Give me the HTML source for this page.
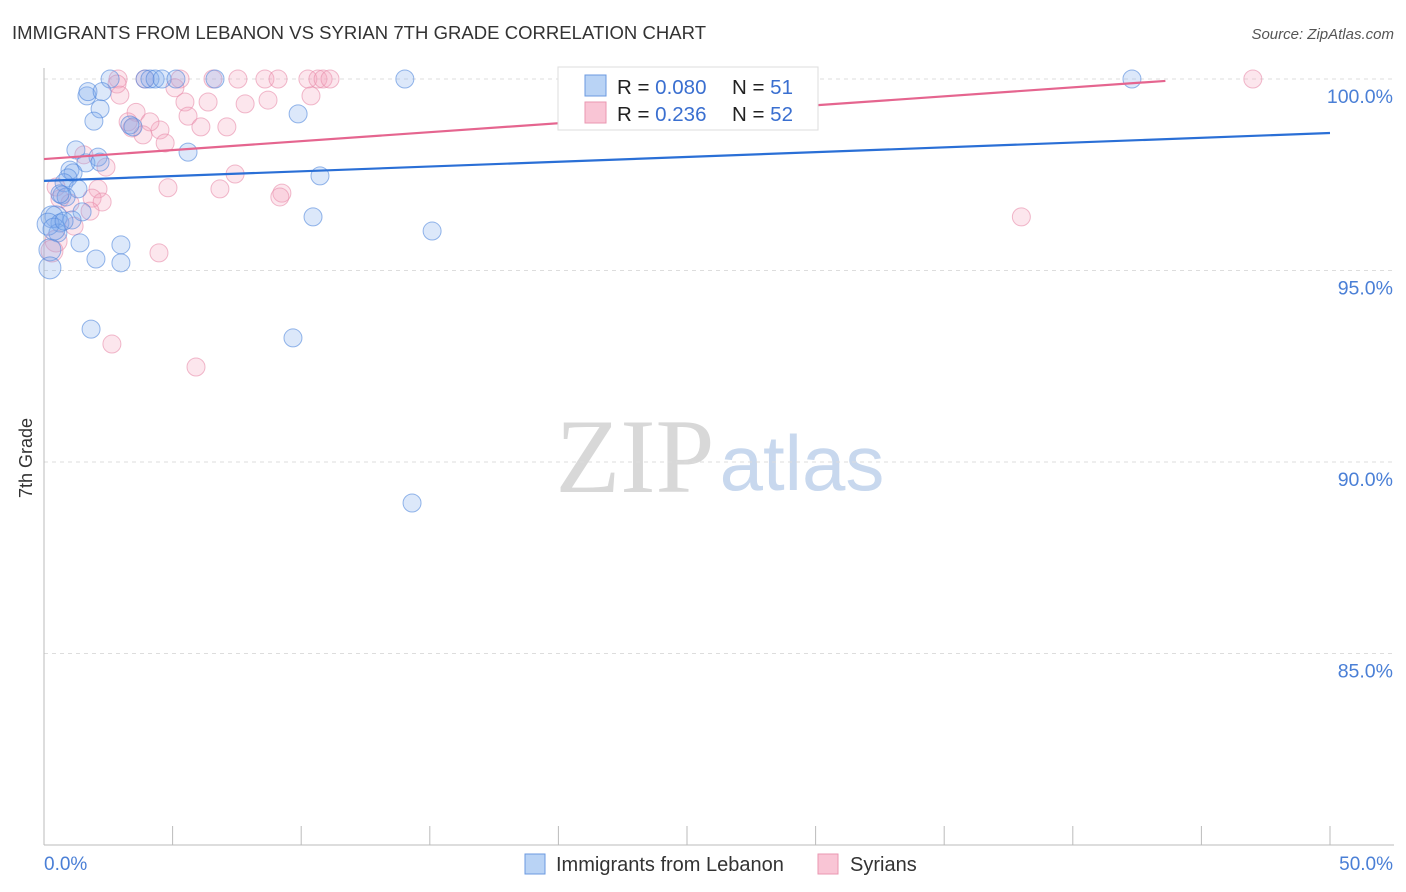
<!DOCTYPE html>
<html><head><meta charset="utf-8"><style>
body{margin:0;background:#fff;font-family:"Liberation Sans",sans-serif;}
#c{position:absolute;left:0;top:0}
</style></head><body>
<svg id="c" width="1406" height="892" xmlns="http://www.w3.org/2000/svg">
<text x="12" y="39" font-size="18.5" fill="#333" textLength="694">IMMIGRANTS FROM LEBANON VS SYRIAN 7TH GRADE CORRELATION CHART</text>
<text x="1394" y="39" font-size="15" fill="#555" font-style="italic" text-anchor="end">Source: ZipAtlas.com</text>
<text x="32" y="458" font-size="18" fill="#333" transform="rotate(-90 32 458)" text-anchor="middle">7th Grade</text>
<g>
<text x="635" y="492" font-size="106" fill="#d8d8d8" font-family="Liberation Serif,serif" text-anchor="middle">ZIP</text>
<text x="802" y="490" font-size="78" fill="#c8d8ee" text-anchor="middle">atlas</text>
</g>
<g id="grid"></g><g id="axes"></g><g id="pts"></g><g id="lines"></g>
<g>
<rect x="558" y="67" width="260" height="63" fill="#fff" stroke="#ddd"/>
<rect x="585" y="75" width="21" height="21" fill="#b9d3f5" stroke="#6b9ae0"/>
<rect x="585" y="102" width="21" height="21" fill="#f9c5d5" stroke="#ea97b1"/>
<text x="617" y="94" font-size="20.5" fill="#222">R = <tspan fill="#3a6fd0">0.080</tspan></text>
<text x="732" y="94" font-size="20.5" fill="#222">N = <tspan fill="#3a6fd0">51</tspan></text>
<text x="617" y="121" font-size="20.5" fill="#222">R = <tspan fill="#3a6fd0">0.236</tspan></text>
<text x="732" y="121" font-size="20.5" fill="#222">N = <tspan fill="#3a6fd0">52</tspan></text>
</g>
<g>
<rect x="525" y="854" width="20" height="20" fill="#b9d3f5" stroke="#6b9ae0"/>
<text x="556" y="871" font-size="20" fill="#333">Immigrants from Lebanon</text>
<rect x="818" y="854" width="20" height="20" fill="#f9c5d5" stroke="#ea97b1"/>
<text x="850" y="871" font-size="20" fill="#333">Syrians</text>
</g>
</svg>
<script>
const yTicks=[100,95,90,85];
const xTickLabels=["0.0%","50.0%"];
const blueX=[2.57,3.93,4.12,4.32,4.59,5.13,6.65,14.03,42.3,1.67,1.71,2.26,2.18,1.94,3.46,3.34,9.88,1.24,5.6,2.1,1.63,2.18,1.01,1.13,0.93,0.78,10.73,1.32,0.7,0.86,0.47,0.31,0.62,0.54,1.48,1.09,10.46,15.09,1.4,2.99,0.23,0.23,2.02,2.99,1.83,9.68,14.31,0.62,0.16,0.39,0.78];
const blueY=[100,100,100,100,100,100,100,100,100,99.56,99.67,99.67,99.22,98.9,98.75,98.8,99.09,98.15,98.09,97.96,97.81,97.83,97.62,97.55,97.42,97.29,97.47,97.13,96.97,96.92,96.4,96.4,96.24,95.98,96.53,96.32,96.4,96.03,95.72,95.67,95.54,95.07,95.3,95.2,93.47,93.24,88.93,97.0,96.21,96.08,96.29];
const pinkX=[2.88,3.93,5.29,6.57,7.54,8.59,9.1,10.26,10.65,10.85,11.12,27.84,47.0,2.84,2.95,5.09,5.48,6.38,7.82,8.71,10.38,3.58,5.6,3.27,3.42,4.51,4.12,6.1,7.11,3.85,4.71,1.55,2.41,7.43,2.1,4.82,6.84,9.25,9.17,1.87,2.26,0.47,0.62,1.01,1.79,1.17,0.47,0.31,38.0,4.47,2.64,5.91];
const pinkY=[100,100,100,100,100,100,100,100,100,100,100,100,100,99.87,99.58,99.77,99.4,99.4,99.35,99.45,99.56,99.13,99.03,98.88,98.72,98.67,98.88,98.75,98.75,98.54,98.33,98.02,97.7,97.52,97.13,97.16,97.13,97.02,96.92,96.89,96.79,97.18,96.87,96.76,96.55,96.16,95.77,95.51,96.4,95.46,93.08,92.48];
const blueTrend=[97.34,98.59];
const pinkTrend=[97.91,99.95];
const X=v=>44+v/50*1286, Y=v=>79+(100-v)*38.3;
const NS="http://www.w3.org/2000/svg";
function mk(t,a,p){const e=document.createElementNS(NS,t);for(const k in a)e.setAttribute(k,a[k]);p.appendChild(e);return e;}
const grid=document.getElementById('grid'),axes=document.getElementById('axes'),pts=document.getElementById('pts'),lines=document.getElementById('lines');
yTicks.forEach(t=>{
const l=mk('line',{x1:44,x2:1394,y1:Y(t),y2:Y(t),stroke:'#ddd','stroke-dasharray':'4,4'},grid);


const tx=mk('text',{x:1393,y:Y(t)+24,'font-size':19.5,fill:'#4a7fd6','text-anchor':'end'},axes);
tx.textContent=t.toFixed(1)+'%';


});
const ya=mk('line',{x1:44,x2:44,y1:68,y2:845,stroke:'#bbb'},axes);


const xa=mk('line',{x1:44,x2:1394,y1:845,y2:845,stroke:'#bbb'},axes);


for(let i=0;i<=10;i++){const t=mk('line',{x1:X(i*5),x2:X(i*5),y1:826,y2:845,stroke:'#bbb'},axes);

}
xTickLabels.forEach((s,i)=>{const t=mk('text',{x:i?1393:44,y:870,'font-size':19,fill:'#4a7fd6','text-anchor':i?'end':'start'},axes);t.textContent=s;

});
function dots(xs,ys,fill,stroke,name){xs.forEach((x,i)=>{const r=(x<0.5&&ys[i]<96.5)?11:9;
const c=mk('circle',{cx:X(x),cy:Y(ys[i]),r:r,fill:fill,stroke:stroke,'stroke-width':1},pts);

});}
dots(pinkX,pinkY,'rgba(244,165,192,0.28)','rgba(232,140,170,0.6)','syrians-point');
dots(blueX,blueY,'rgba(130,172,238,0.28)','rgba(80,135,220,0.6)','lebanon-point');
const bl=mk('line',{x1:X(0),y1:Y(blueTrend[0]),x2:X(50),y2:Y(blueTrend[1]),stroke:'#2a6fd6','stroke-width':2.2},lines);


const pl=mk('line',{x1:X(0),y1:Y(pinkTrend[0]),x2:X(43.6),y2:Y(pinkTrend[1]),stroke:'#e5658f','stroke-width':2.2},lines);


</script>
</body></html>
